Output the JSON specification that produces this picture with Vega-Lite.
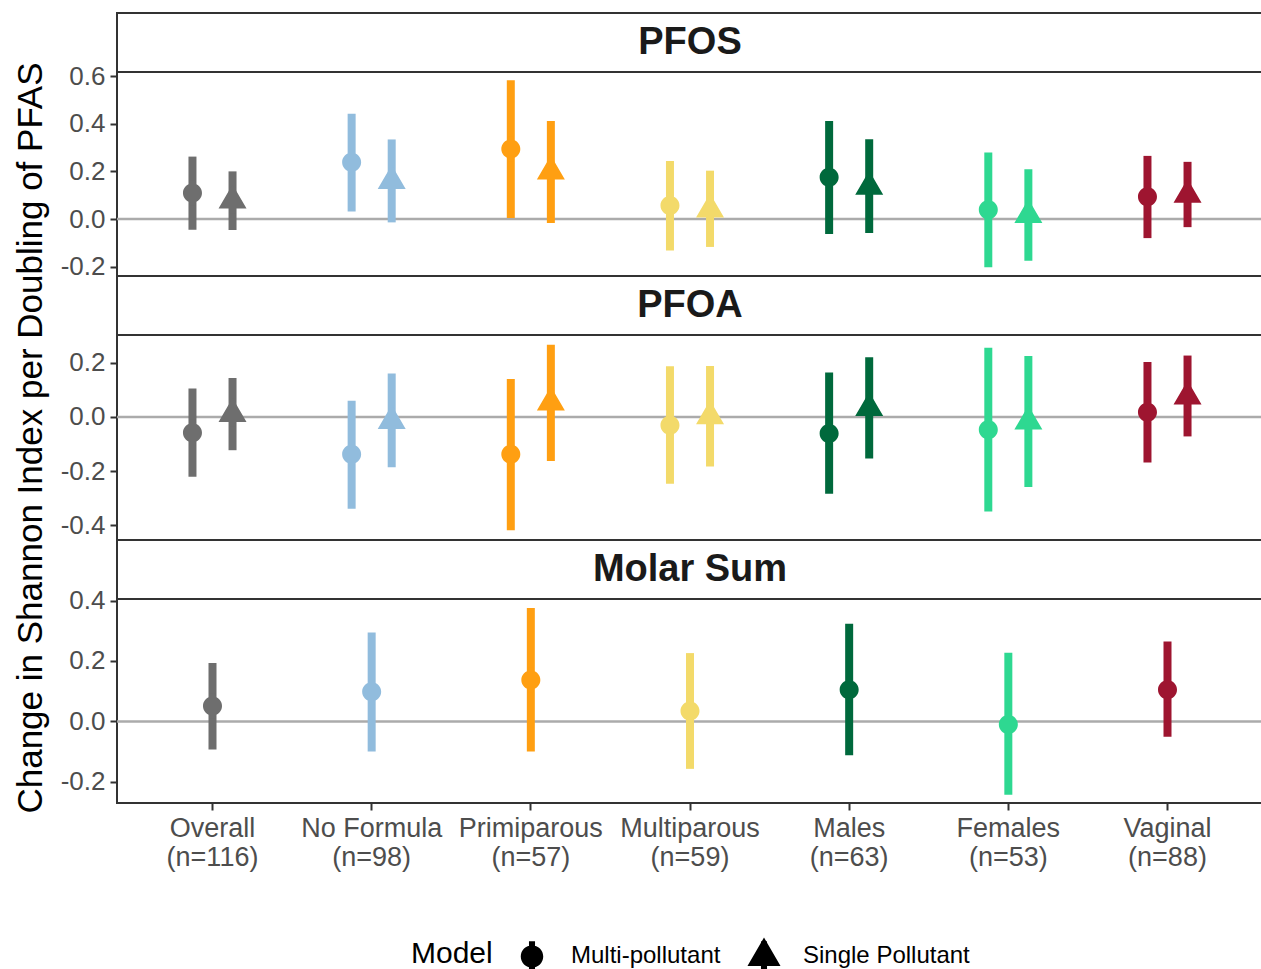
{
  "$schema": "https://vega.github.io/schema/vega-lite/v6.json",
  "background": "white",
  "padding": {"left": 12, "top": 12, "right": 0, "bottom": 0},
  "autosize": {"type": "pad"},
  "bounds": "flush",
  "spacing": 0,
  "datasets": {
    "est": [
      {"Exposure": "PFOS", "Group": "Overall (n=116)", "Model": "Multi-pollutant", "est": 0.109, "lo": -0.045, "hi": 0.262},
      {"Exposure": "PFOS", "Group": "Overall (n=116)", "Model": "Single Pollutant", "est": 0.078, "lo": -0.046, "hi": 0.200},
      {"Exposure": "PFOS", "Group": "No Formula (n=98)", "Model": "Multi-pollutant", "est": 0.238, "lo": 0.032, "hi": 0.442},
      {"Exposure": "PFOS", "Group": "No Formula (n=98)", "Model": "Single Pollutant", "est": 0.160, "lo": -0.014, "hi": 0.334},
      {"Exposure": "PFOS", "Group": "Primiparous (n=57)", "Model": "Multi-pollutant", "est": 0.294, "lo": 0.004, "hi": 0.582},
      {"Exposure": "PFOS", "Group": "Primiparous (n=57)", "Model": "Single Pollutant", "est": 0.199, "lo": -0.017, "hi": 0.411},
      {"Exposure": "PFOS", "Group": "Multiparous (n=59)", "Model": "Multi-pollutant", "est": 0.057, "lo": -0.132, "hi": 0.244},
      {"Exposure": "PFOS", "Group": "Multiparous (n=59)", "Model": "Single Pollutant", "est": 0.040, "lo": -0.117, "hi": 0.203},
      {"Exposure": "PFOS", "Group": "Males (n=63)", "Model": "Multi-pollutant", "est": 0.175, "lo": -0.063, "hi": 0.411},
      {"Exposure": "PFOS", "Group": "Males (n=63)", "Model": "Single Pollutant", "est": 0.136, "lo": -0.059, "hi": 0.335},
      {"Exposure": "PFOS", "Group": "Females (n=53)", "Model": "Multi-pollutant", "est": 0.039, "lo": -0.202, "hi": 0.279},
      {"Exposure": "PFOS", "Group": "Females (n=53)", "Model": "Single Pollutant", "est": 0.017, "lo": -0.175, "hi": 0.209},
      {"Exposure": "PFOS", "Group": "Vaginal (n=88)", "Model": "Multi-pollutant", "est": 0.094, "lo": -0.080, "hi": 0.265},
      {"Exposure": "PFOS", "Group": "Vaginal (n=88)", "Model": "Single Pollutant", "est": 0.102, "lo": -0.034, "hi": 0.240},
      {"Exposure": "PFOA", "Group": "Overall (n=116)", "Model": "Multi-pollutant", "est": -0.058, "lo": -0.221, "hi": 0.105},
      {"Exposure": "PFOA", "Group": "Overall (n=116)", "Model": "Single Pollutant", "est": 0.011, "lo": -0.123, "hi": 0.144},
      {"Exposure": "PFOA", "Group": "No Formula (n=98)", "Model": "Multi-pollutant", "est": -0.138, "lo": -0.339, "hi": 0.060},
      {"Exposure": "PFOA", "Group": "No Formula (n=98)", "Model": "Single Pollutant", "est": -0.015, "lo": -0.186, "hi": 0.161},
      {"Exposure": "PFOA", "Group": "Primiparous (n=57)", "Model": "Multi-pollutant", "est": -0.138, "lo": -0.419, "hi": 0.140},
      {"Exposure": "PFOA", "Group": "Primiparous (n=57)", "Model": "Single Pollutant", "est": 0.053, "lo": -0.163, "hi": 0.267},
      {"Exposure": "PFOA", "Group": "Multiparous (n=59)", "Model": "Multi-pollutant", "est": -0.031, "lo": -0.247, "hi": 0.187},
      {"Exposure": "PFOA", "Group": "Multiparous (n=59)", "Model": "Single Pollutant", "est": 0.003, "lo": -0.183, "hi": 0.188},
      {"Exposure": "PFOA", "Group": "Males (n=63)", "Model": "Multi-pollutant", "est": -0.061, "lo": -0.284, "hi": 0.164},
      {"Exposure": "PFOA", "Group": "Males (n=63)", "Model": "Single Pollutant", "est": 0.033, "lo": -0.154, "hi": 0.221},
      {"Exposure": "PFOA", "Group": "Females (n=53)", "Model": "Multi-pollutant", "est": -0.047, "lo": -0.350, "hi": 0.256},
      {"Exposure": "PFOA", "Group": "Females (n=53)", "Model": "Single Pollutant", "est": -0.017, "lo": -0.259, "hi": 0.225},
      {"Exposure": "PFOA", "Group": "Vaginal (n=88)", "Model": "Multi-pollutant", "est": 0.017, "lo": -0.168, "hi": 0.203},
      {"Exposure": "PFOA", "Group": "Vaginal (n=88)", "Model": "Single Pollutant", "est": 0.076, "lo": -0.072, "hi": 0.227},
      {"Exposure": "Molar Sum", "Group": "Overall (n=116)", "Model": "Multi-pollutant", "est": 0.051, "lo": -0.093, "hi": 0.193},
      {"Exposure": "Molar Sum", "Group": "No Formula (n=98)", "Model": "Multi-pollutant", "est": 0.098, "lo": -0.100, "hi": 0.294},
      {"Exposure": "Molar Sum", "Group": "Primiparous (n=57)", "Model": "Multi-pollutant", "est": 0.137, "lo": -0.100, "hi": 0.375},
      {"Exposure": "Molar Sum", "Group": "Multiparous (n=59)", "Model": "Multi-pollutant", "est": 0.034, "lo": -0.157, "hi": 0.226},
      {"Exposure": "Molar Sum", "Group": "Males (n=63)", "Model": "Multi-pollutant", "est": 0.105, "lo": -0.112, "hi": 0.323},
      {"Exposure": "Molar Sum", "Group": "Females (n=53)", "Model": "Multi-pollutant", "est": -0.010, "lo": -0.243, "hi": 0.227},
      {"Exposure": "Molar Sum", "Group": "Vaginal (n=88)", "Model": "Multi-pollutant", "est": 0.105, "lo": -0.051, "hi": 0.264}
    ],
    "strips": [{"Exposure": "PFOS"}, {"Exposure": "PFOA"}, {"Exposure": "Molar Sum"}]
  },
  "vconcat": [
    {
      "width": 1146, "height": 59,
      "data": {"name": "strips"},
      "transform": [{"filter": "datum.Exposure === 'PFOS'"}],
      "layer": [
        {"mark": {"type": "rect", "fill": "white", "stroke": "#333333", "strokeWidth": 2}, "encoding": {}},
        {"mark": {"type": "text", "fontSize": 38, "fontWeight": "bold", "color": "#1a1a1a", "align": "center", "baseline": "middle"}, "encoding": {"text": {"field": "Exposure"}}}
      ]
    },
    {
      "width": 1146, "height": 204,
      "layer": [
        {
          "data": {"values": [{}]},
          "mark": {"type": "rule", "color": "#ababab", "strokeWidth": 2.5},
          "encoding": {"y": {"datum": 0, "type": "quantitative", "scale": {"domain": [-0.239, 0.617], "nice": false, "zero": false}, "axis": {"title": null, "values": [-0.2, 0, 0.2, 0.4, 0.6]}}}
        },
        {
          "data": {"name": "est"},
          "transform": [{"filter": "datum.Exposure === 'PFOS'"}],
          "mark": {"type": "rule", "strokeWidth": 8},
          "encoding": {
            "x": {"field": "Group", "type": "nominal", "sort": null, "scale": {"domain": ["Overall (n=116)", "No Formula (n=98)", "Primiparous (n=57)", "Multiparous (n=59)", "Males (n=63)", "Females (n=53)", "Vaginal (n=88)"], "paddingInner": 0.4966, "paddingOuter": 0.3483}, "axis": null},
            "xOffset": {"field": "Model", "type": "nominal", "scale": {"domain": ["Multi-pollutant", "Single Pollutant"]}},
            "y": {"field": "lo", "type": "quantitative", "scale": {"domain": [-0.239, 0.617], "nice": false, "zero": false}, "axis": {"title": null, "values": [-0.2, 0, 0.2, 0.4, 0.6]}},
            "y2": {"field": "hi"},
            "color": {"field": "Group", "type": "nominal", "scale": {"domain": ["Overall (n=116)", "No Formula (n=98)", "Primiparous (n=57)", "Multiparous (n=59)", "Males (n=63)", "Females (n=53)", "Vaginal (n=88)"], "range": ["#6e6e6e", "#91bcdd", "#ff9f12", "#f3da6a", "#00693c", "#2ed891", "#9e1530"]}, "legend": null}
          }
        },
        {
          "data": {"name": "est"},
          "transform": [{"filter": "datum.Exposure === 'PFOS'"}],
          "mark": {"type": "point", "filled": true, "size": 1024, "opacity": 1, "strokeWidth": 0},
          "encoding": {
            "x": {"field": "Group", "type": "nominal", "sort": null, "scale": {"domain": ["Overall (n=116)", "No Formula (n=98)", "Primiparous (n=57)", "Multiparous (n=59)", "Males (n=63)", "Females (n=53)", "Vaginal (n=88)"], "paddingInner": 0.4966, "paddingOuter": 0.3483}, "axis": null},
            "xOffset": {"field": "Model", "type": "nominal", "scale": {"domain": ["Multi-pollutant", "Single Pollutant"]}},
            "y": {"field": "est", "type": "quantitative", "scale": {"domain": [-0.239, 0.617], "nice": false, "zero": false}, "axis": {"title": null, "values": [-0.2, 0, 0.2, 0.4, 0.6]}},
            "color": {"field": "Group", "type": "nominal", "legend": null},
            "shape": {"field": "Model", "type": "nominal", "scale": {"domain": ["Multi-pollutant", "Single Pollutant"], "range": ["M0.594,0A0.594,0.594,0,1,1,-0.594,0A0.594,0.594,0,1,1,0.594,0Z M-0.16,-0.8L0.16,-0.8L0.16,0.8L-0.16,0.8Z", "M0,-1L0.875,0.5L-0.875,0.5Z M-0.16,-0.8L0.16,-0.8L0.16,0.8L-0.16,0.8Z"]}, "legend": {"title": "Model"}}
          }
        }
      ]
    },
    {
      "width": 1146, "height": 59,
      "data": {"name": "strips"},
      "transform": [{"filter": "datum.Exposure === 'PFOA'"}],
      "layer": [
        {"mark": {"type": "rect", "fill": "white", "stroke": "#333333", "strokeWidth": 2}, "encoding": {}},
        {"mark": {"type": "text", "fontSize": 38, "fontWeight": "bold", "color": "#1a1a1a", "align": "center", "baseline": "middle"}, "encoding": {"text": {"field": "Exposure"}}}
      ]
    },
    {
      "width": 1146, "height": 205,
      "layer": [
        {
          "data": {"values": [{}]},
          "mark": {"type": "rule", "color": "#ababab", "strokeWidth": 2.5},
          "encoding": {"y": {"datum": 0, "type": "quantitative", "scale": {"domain": [-0.455, 0.303], "nice": false, "zero": false}, "axis": {"title": "Change in Shannon Index per Doubling of PFAS", "values": [-0.4, -0.2, 0, 0.2]}}}
        },
        {
          "data": {"name": "est"},
          "transform": [{"filter": "datum.Exposure === 'PFOA'"}],
          "mark": {"type": "rule", "strokeWidth": 8},
          "encoding": {
            "x": {"field": "Group", "type": "nominal", "sort": null, "scale": {"domain": ["Overall (n=116)", "No Formula (n=98)", "Primiparous (n=57)", "Multiparous (n=59)", "Males (n=63)", "Females (n=53)", "Vaginal (n=88)"], "paddingInner": 0.4966, "paddingOuter": 0.3483}, "axis": null},
            "xOffset": {"field": "Model", "type": "nominal", "scale": {"domain": ["Multi-pollutant", "Single Pollutant"]}},
            "y": {"field": "lo", "type": "quantitative", "scale": {"domain": [-0.455, 0.303], "nice": false, "zero": false}, "axis": {"title": "Change in Shannon Index per Doubling of PFAS", "values": [-0.4, -0.2, 0, 0.2]}},
            "y2": {"field": "hi"},
            "color": {"field": "Group", "type": "nominal", "legend": null}
          }
        },
        {
          "data": {"name": "est"},
          "transform": [{"filter": "datum.Exposure === 'PFOA'"}],
          "mark": {"type": "point", "filled": true, "size": 1024, "opacity": 1, "strokeWidth": 0},
          "encoding": {
            "x": {"field": "Group", "type": "nominal", "sort": null, "scale": {"domain": ["Overall (n=116)", "No Formula (n=98)", "Primiparous (n=57)", "Multiparous (n=59)", "Males (n=63)", "Females (n=53)", "Vaginal (n=88)"], "paddingInner": 0.4966, "paddingOuter": 0.3483}, "axis": null},
            "xOffset": {"field": "Model", "type": "nominal", "scale": {"domain": ["Multi-pollutant", "Single Pollutant"]}},
            "y": {"field": "est", "type": "quantitative", "scale": {"domain": [-0.455, 0.303], "nice": false, "zero": false}, "axis": {"title": "Change in Shannon Index per Doubling of PFAS", "values": [-0.4, -0.2, 0, 0.2]}},
            "color": {"field": "Group", "type": "nominal", "legend": null},
            "shape": {"field": "Model", "type": "nominal"}
          }
        }
      ]
    },
    {
      "width": 1146, "height": 59,
      "data": {"name": "strips"},
      "transform": [{"filter": "datum.Exposure === 'Molar Sum'"}],
      "layer": [
        {"mark": {"type": "rect", "fill": "white", "stroke": "#333333", "strokeWidth": 2}, "encoding": {}},
        {"mark": {"type": "text", "fontSize": 38, "fontWeight": "bold", "color": "#1a1a1a", "align": "center", "baseline": "middle"}, "encoding": {"text": {"field": "Exposure"}}}
      ]
    },
    {
      "width": 1146, "height": 204,
      "layer": [
        {
          "data": {"values": [{}]},
          "mark": {"type": "rule", "color": "#ababab", "strokeWidth": 2.5},
          "encoding": {"y": {"datum": 0, "type": "quantitative", "scale": {"domain": [-0.270, 0.405], "nice": false, "zero": false}, "axis": {"title": null, "values": [-0.2, 0, 0.2, 0.4]}}}
        },
        {
          "data": {"name": "est"},
          "transform": [{"filter": "datum.Exposure === 'Molar Sum'"}],
          "mark": {"type": "rule", "strokeWidth": 8},
          "encoding": {
            "x": {"field": "Group", "type": "nominal", "sort": null, "scale": {"domain": ["Overall (n=116)", "No Formula (n=98)", "Primiparous (n=57)", "Multiparous (n=59)", "Males (n=63)", "Females (n=53)", "Vaginal (n=88)"], "paddingInner": 0.4966, "paddingOuter": 0.3483}, "axis": {"title": null, "labelAngle": 0, "labelFontSize": 27, "labelExpr": "[split(datum.label, ' (')[0], '(' + split(datum.label, ' (')[1]]"}},
            "y": {"field": "lo", "type": "quantitative", "scale": {"domain": [-0.270, 0.405], "nice": false, "zero": false}, "axis": {"title": null, "values": [-0.2, 0, 0.2, 0.4]}},
            "y2": {"field": "hi"},
            "color": {"field": "Group", "type": "nominal", "legend": null}
          }
        },
        {
          "data": {"name": "est"},
          "transform": [{"filter": "datum.Exposure === 'Molar Sum'"}],
          "mark": {"type": "point", "filled": true, "size": 1024, "opacity": 1, "strokeWidth": 0},
          "encoding": {
            "x": {"field": "Group", "type": "nominal", "sort": null, "scale": {"domain": ["Overall (n=116)", "No Formula (n=98)", "Primiparous (n=57)", "Multiparous (n=59)", "Males (n=63)", "Females (n=53)", "Vaginal (n=88)"], "paddingInner": 0.4966, "paddingOuter": 0.3483}, "axis": {"title": null, "labelAngle": 0, "labelFontSize": 27, "labelExpr": "[split(datum.label, ' (')[0], '(' + split(datum.label, ' (')[1]]"}},
            "y": {"field": "est", "type": "quantitative", "scale": {"domain": [-0.270, 0.405], "nice": false, "zero": false}, "axis": {"title": null, "values": [-0.2, 0, 0.2, 0.4]}},
            "color": {"field": "Group", "type": "nominal", "legend": null},
            "shape": {"field": "Model", "type": "nominal"}
          }
        }
      ]
    }
  ],
  "resolve": {"scale": {"y": "independent"}},
  "config": {
    "font": "Liberation Sans",
    "view": {"stroke": "#333333", "strokeWidth": 2},
    "axis": {
      "grid": false,
      "domain": false,
      "ticks": true,
      "tickColor": "#333333",
      "tickWidth": 2,
      "tickSize": 7,
      "labelFont": "Liberation Sans",
      "labelFontSize": 26,
      "labelColor": "#4d4d4d",
      "labelPadding": 5,
      "labelLineHeight": 29,
      "titleFont": "Liberation Sans",
      "titleFontSize": 35,
      "titleFontWeight": "normal",
      "titleColor": "#000000",
      "titlePadding": 12
    },
    "axisY": {"labelExpr": "replace(format(datum.value, '.1f'), '\u2212', '-')"},
    "legend": {
      "orient": "bottom",
      "direction": "horizontal",
      "titleOrient": "left",
      "titleFont": "Liberation Sans",
      "titleFontSize": 30,
      "titleFontWeight": "normal",
      "titleColor": "#000000",
      "titlePadding": 20,
      "labelFont": "Liberation Sans",
      "labelFontSize": 24,
      "labelColor": "#000000",
      "labelLimit": 400,
      "labelOffset": 20,
      "columnPadding": 24,
      "symbolSize": 1430,
      "symbolFillColor": "#000000",
      "symbolStrokeWidth": 0,
      "symbolOpacity": 1,
      "offset": 66,
      "layout": {"bottom": {"anchor": "middle"}}
    }
  }
}
